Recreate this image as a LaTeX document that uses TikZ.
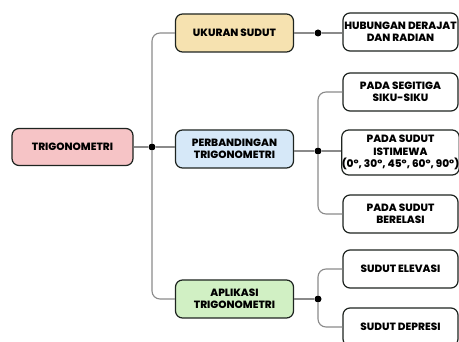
\documentclass[tikz,border=0pt]{standalone}
\usepackage{fontspec}
\setmainfont{Poppins}[BoldFont={Poppins ExtraBold}]
\usepackage{tikz}
\usetikzlibrary{positioning}
\definecolor{boxline}{HTML}{1E2420}
\definecolor{linegray}{HTML}{8A8A8A}
\definecolor{trigfill}{HTML}{F6C4C6}
\definecolor{ukurfill}{HTML}{F6E2B0}
\definecolor{bandfill}{HTML}{D6E8F8}
\definecolor{aplifill}{HTML}{D1F0C4}

\begin{document}
\begin{tikzpicture}[x=1pt,y=-1pt,
  box/.style={draw=boxline,line width=1.2pt,rounded corners=7pt,align=center,
    font=\bfseries\fontsize{10.5}{12.5}\selectfont,inner sep=0pt,minimum height=38pt},
  mainbox/.style={box,minimum width=118pt},
  subbox/.style={box,fill=white,minimum width=115pt},
  dot/.style={circle,fill=black,inner sep=0pt,minimum size=7pt},
  link/.style={draw=linegray,line width=1.1pt,rounded corners=8pt}]
\useasboundingbox (0,0) rectangle (459,342);
% root
\node[mainbox,fill=trigfill,minimum width=121pt,minimum height=37pt] (trig) at (72.5,147) {TRIGONOMETRI};
\node[dot] (d1) at (152,147) {};
% branches
\node[mainbox,fill=ukurfill] (ukur) at (234.5,33) {UKURAN SUDUT};
\node[mainbox,fill=bandfill] (band) at (234.5,149) {PERBANDINGAN\\TRIGONOMETRI};
\node[mainbox,fill=aplifill] (apli) at (234.5,299) {APLIKASI\\TRIGONOMETRI};
\node[dot] (d2) at (318,33) {};
\node[dot] (d3) at (318,151) {};
\node[dot] (d4) at (318,299) {};
% leaves
\node[subbox] (hub) at (400.5,32) {HUBUNGAN DERAJAT\\DAN RADIAN};
\node[subbox] (siku) at (400.5,92) {PADA SEGITIGA\\SIKU-SIKU};
\node[subbox,minimum height=45pt] (istm) at (400.5,152.5) {PADA SUDUT\\ISTIMEWA\\(0°, 30°, 45°, 60°, 90°)};
\node[subbox] (rela) at (400.5,214) {PADA SUDUT\\BERELASI};
\node[subbox] (elev) at (400.5,269) {SUDUT ELEVASI};
\node[subbox] (depr) at (400.5,327) {SUDUT DEPRESI};
% links
\draw[link] (trig) -- (d1);
\draw[link] (d1) |- (ukur);
\draw[link] (d1) -- (d1 -| band.west);
\draw[link] (d1) |- (apli);
\draw[link] (ukur) -- (d2);
\draw[link] (d2) -- (d2 -| hub.west);
\draw[link] (band.east |- d3) -- (d3);
\draw[link] (d3) |- (siku);
\draw[link] (d3) -- (d3 -| istm.west);
\draw[link] (d3) |- (rela);
\draw[link] (apli) -- (d4);
\draw[link] (d4) |- (elev);
\draw[link] (d4) |- (depr);
\end{tikzpicture}
\end{document}
